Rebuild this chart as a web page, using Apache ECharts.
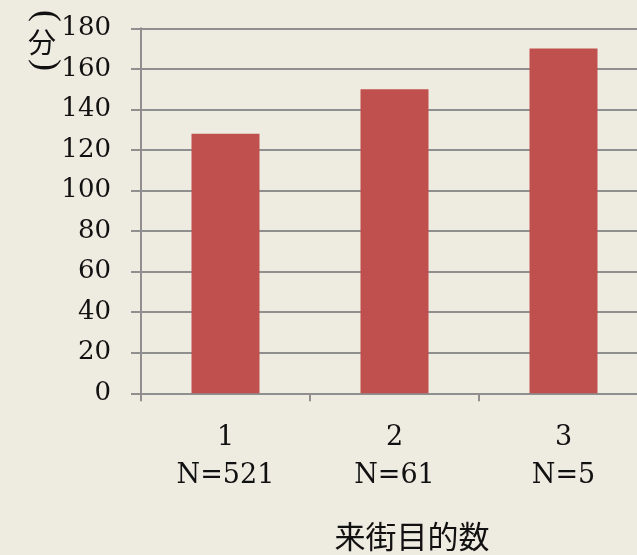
<!DOCTYPE html>
<html>
<head>
<meta charset="utf-8">
<script src="https://cdn.jsdelivr.net/npm/echarts@6/dist/echarts.min.js"></script>
<style>
  html, body { margin: 0; padding: 0; background: #EEEBE1; }
  #chart { width: 637px; height: 555px; }
</style>
</head>
<body>
<div id="chart"></div>
<script>
// Average stay time (minutes) by number of visit purposes
const categories = ['1', '2', '3'];
const sampleSizes = ['N=521', 'N=61', 'N=5'];
const stayMinutes = [128, 150, 170];
const yTicks = { min: 0, max: 180, interval: 20 };
const unitLabel = ['(', '分', ')'];

const axisGray = '#8F8F8F';
const serif = '"DejaVu Serif", "Liberation Serif", serif';
const cjk = '"Noto Sans CJK JP", "Noto Sans CJK SC", sans-serif';

const chart = echarts.init(document.getElementById('chart'), null, { renderer: 'canvas' });

// Vertical unit label: parentheses turned a quarter turn clockwise so they cap the character
function bracket(text, x, y) {
  return {
    type: 'group',
    x: x,
    y: y,
    rotation: -Math.PI / 2,
    children: [{
      type: 'text',
      x: 0,
      y: 0,
      style: {
        text: text,
        font: 'normal 36px "Liberation Serif", serif',
        fill: '#111',
        align: 'center',
        verticalAlign: 'middle'
      }
    }]
  };
}

chart.setOption({
  backgroundColor: '#EEEBE1',
  animation: false,
  graphic: [
    bracket(unitLabel[0], 45, 16),
    { type: 'text', x: 42, y: 42, style: { text: unitLabel[1], font: 'normal 28px "Noto Sans CJK JP", sans-serif', fill: '#111', align: 'center', verticalAlign: 'middle' } },
    bracket(unitLabel[2], 45, 65)
  ],
  grid: { left: 141, top: 28.3, width: 507, height: 365, outerBoundsMode: 'none', containLabel: false },
  xAxis: {
    type: 'category',
    data: categories.map((c, i) => c + '\n' + sampleSizes[i]),
    name: '来街目的数',
    nameLocation: 'middle',
    nameGap: 127,
    nameTextStyle: {
      fontFamily: cjk,
      fontSize: 31,
      color: '#111',
      padding: [0, 0, 0, 35]
    },
    axisLine: { lineStyle: { color: axisGray, width: 2 } },
    axisTick: { show: true, length: 8, lineStyle: { color: axisGray, width: 2 } },
    axisLabel: {
      fontFamily: serif,
      fontSize: 27,
      color: '#111',
      lineHeight: 38,
      margin: 26
    }
  },
  yAxis: {
    type: 'value',
    min: yTicks.min,
    max: yTicks.max,
    interval: yTicks.interval,
    axisLine: { show: true, lineStyle: { color: axisGray, width: 2 } },
    axisTick: { show: true, length: 10, lineStyle: { color: axisGray, width: 2 } },
    splitLine: { show: true, lineStyle: { color: axisGray, width: 2 } },
    axisLabel: {
      fontFamily: serif,
      fontSize: 26,
      color: '#111',
      margin: 30
    }
  },
  series: [{
    type: 'bar',
    data: stayMinutes,
    barWidth: 68,
    itemStyle: { color: '#C0504D' }
  }]
});
</script>
</body>
</html>
